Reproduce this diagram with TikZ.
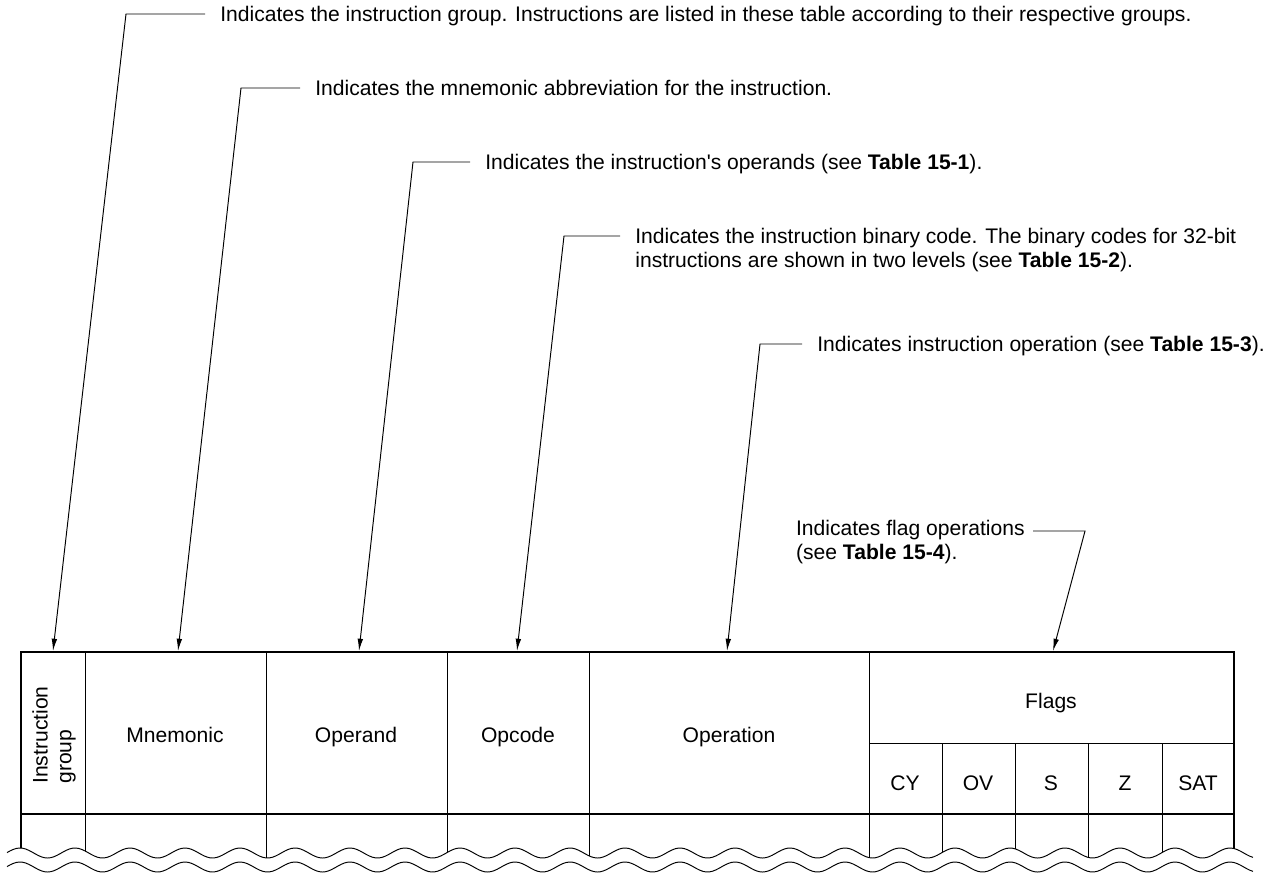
\documentclass[tikz,border=0pt]{standalone}
\usepackage{fontspec}
\setmainfont{Liberation Sans}
\usetikzlibrary{arrows.meta}

\begin{document}
\begin{tikzpicture}[
    x=0.02cm, y=-0.02cm,
    note/.style={font=\fontsize{12}{13.6}\selectfont, inner xsep=0.3cm, inner ysep=0pt, align=left},
    cell/.style={font=\fontsize{12}{13.6}\selectfont, inner sep=0pt, anchor=base},
    callout/.style={line width=0.55pt, -{Latex[length=7pt, width=3.2pt]}},
    border/.style={line width=1.2pt},
    rule/.style={line width=0.55pt},
    ripple/.style={line width=0.55pt},
    declare function={wv(\t)=5*cos((\t-20)*6.54545);}
]
\useasboundingbox (0,0) rectangle (1280,873);

% ---- table (cut off by the wave) ----
\begin{scope}
\clip (0,0) -- (1280,0) -- (1280,853) -- plot[domain=1280:0, samples=300] (\x,{853-wv(\x)}) -- cycle;
\draw[border] (21,880) -- (21,652) -- (1234,652) -- (1234,880);
\draw[border] (21,814) -- (1234,814);
\draw[rule] (869,743) -- (1234,743);
\foreach \c in {85,266,447,589,869} \draw[rule] (\c,652) -- (\c,880);
\foreach \c in {942,1015,1088,1162} \draw[rule] (\c,743) -- (\c,880);
\end{scope}

\draw[ripple] plot[domain=7:1253, samples=400] (\x,{853-wv(\x)});
\draw[ripple] plot[domain=7:1253, samples=400] (\x,{867-wv(\x)});

% ---- header cells ----
\node[font=\fontsize{12}{13.6}\selectfont, inner sep=0pt, rotate=90, align=left] (grp) at (54,735) {Instruction\\group};
\node[cell] (mnem) at (175,742) {Mnemonic};
\node[cell] (opnd) at (356,742) {Operand};
\node[cell] (opc) at (518,742) {Opcode};
\node[cell] (oprn) at (729,742) {Operation};
\node[cell] (flags) at (1051,708) {Flags};
\foreach \x/\t/\n in {905/CY/cy, 978/OV/ov, 1051/S/s, 1125/Z/z, 1198/SAT/sat}
    \node[cell] (\n) at (\x,790) {\t};

% ---- callout texts ----
\node[note, anchor=base west] (grptxt) at (205,21.5)
    {Indicates the instruction group. Instructions are listed in these table according to their respective groups.};
\node[note, anchor=base west] (mnemtxt) at (300,95.5)
    {Indicates the mnemonic abbreviation for the instruction.};
\node[note, anchor=base west] (opndtxt) at (470,169.5)
    {Indicates the instruction\textquotesingle s operands (see \textbf{Table 15-1}).};
\node[note, anchor=north west] (opctxt) at (620,228.3)
    {Indicates the instruction binary code. The binary codes for 32-bit\\
     instructions are shown in two levels (see \textbf{Table 15-2}).};
\node[note, anchor=base west] (oprntxt) at (802,351.5)
    {Indicates instruction operation (see \textbf{Table 15-3}).};
\node[note, anchor=north east, inner xsep=0.16cm] (flagtxt) at (1033,520)
    {Indicates flag operations\\(see \textbf{Table 15-4}).};

% ---- knees and tips ----
\coordinate (grpknee) at (126,14);    \coordinate (grptip) at (53,651);
\coordinate (mnemknee) at (241,88);   \coordinate (mnemtip) at (178,651);
\coordinate (opndknee) at (413,162);  \coordinate (opndtip) at (359,651);
\coordinate (opcknee) at (564,236);   \coordinate (opctip) at (517,651);
\coordinate (oprnknee) at (760,344);  \coordinate (oprntip) at (727,651);
\coordinate (flagknee) at (1085,531); \coordinate (flagtip) at (1053,651);

% ---- callouts ----
\draw[callout] (grptxt.west |- grpknee) -- (grpknee) -- (grptip);
\draw[callout] (mnemtxt.west |- mnemknee) -- (mnemknee) -- (mnemtip);
\draw[callout] (opndtxt.west |- opndknee) -- (opndknee) -- (opndtip);
\draw[callout] (opctxt.west |- opcknee) -- (opcknee) -- (opctip);
\draw[callout] (oprntxt.west |- oprnknee) -- (oprnknee) -- (oprntip);
\draw[callout] (flagtxt.east |- flagknee) -- (flagknee) -- (flagtip);

\end{tikzpicture}
\end{document}
